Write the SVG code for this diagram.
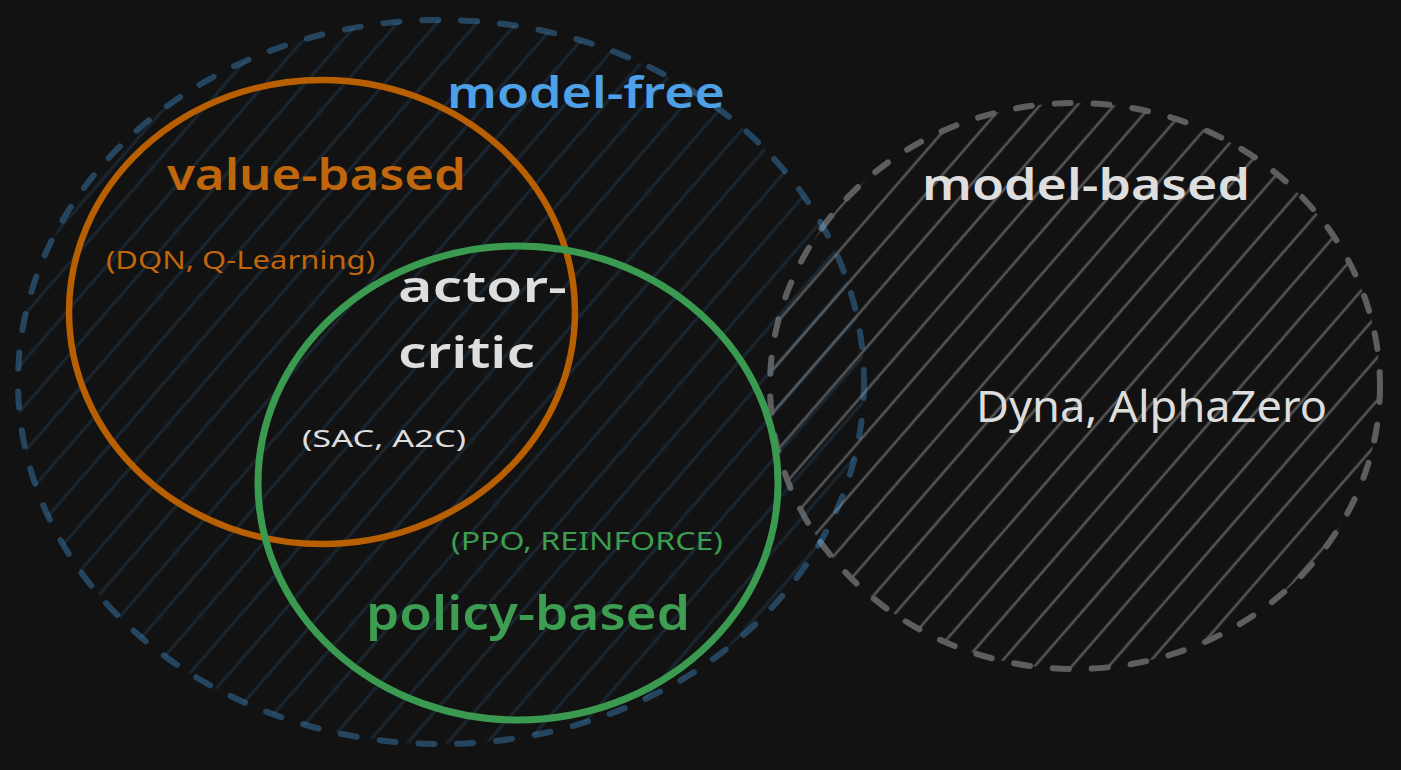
<svg xmlns="http://www.w3.org/2000/svg" width="1401" height="770" viewBox="0 0 1401 770">
<style>
.hand{font-family:"Noto Sans","Open Sans","DejaVu Sans",sans-serif;font-size:44px;font-weight:600;}
.small{font-family:"Noto Sans","Open Sans","DejaVu Sans",sans-serif;font-size:25px;}
.dash{fill:none;stroke-width:6;stroke-linecap:round;stroke-dasharray:16 23;}
</style>
<defs>
<pattern id="hatchBlue" patternUnits="userSpaceOnUse" width="30" height="30" patternTransform="rotate(41)">
<line x1="15" y1="-2" x2="15" y2="32" stroke="#4dabf7" stroke-opacity="0.13" stroke-width="3"/>
</pattern>
<pattern id="hatchGray" patternUnits="userSpaceOnUse" width="28" height="28" patternTransform="rotate(41)">
<line x1="14" y1="-2" x2="14" y2="30" stroke="#555555" stroke-width="2.6"/>
</pattern>
</defs>
<rect width="1401" height="770" fill="#121212"/>
<g id="model-based">
<ellipse cx="1075" cy="386" rx="305" ry="283" fill="url(#hatchGray)"/>
<ellipse class="dash" cx="1075" cy="386" rx="305" ry="283" stroke="#5e5e5e"/>
<text class="hand" x="922" y="200" textLength="328" lengthAdjust="spacingAndGlyphs" fill="#dedede">model-based</text>
<text class="small" x="976" y="422" textLength="351" lengthAdjust="spacingAndGlyphs" style="font-size:44px" fill="#dddddd">Dyna, AlphaZero</text>
</g>
<g id="model-free">
<ellipse cx="441" cy="382" rx="423" ry="362" fill="url(#hatchBlue)"/>
<ellipse class="dash" cx="441" cy="382" rx="423" ry="362" stroke="#4dabf7" stroke-opacity="0.34"/>
<text class="hand" x="447" y="108" textLength="278" lengthAdjust="spacingAndGlyphs" fill="#4ea1e6">model-free</text>
</g>
<g id="value-based">
<ellipse cx="322" cy="312" rx="253" ry="232" fill="none" stroke="#b85f02" stroke-width="6.5"/>
<text class="hand" x="167" y="190" textLength="299" lengthAdjust="spacingAndGlyphs" fill="#c0660c">value-based</text>
<text class="small" x="106" y="269" textLength="269" lengthAdjust="spacingAndGlyphs" fill="#c0660c">(DQN, Q-Learning)</text>
</g>
<g id="policy-based">
<ellipse cx="518" cy="483" rx="260" ry="237" fill="none" stroke="#3a9a4f" stroke-width="7"/>
<text class="small" x="451" y="550" textLength="272" lengthAdjust="spacingAndGlyphs" fill="#3d9d50">(PPO, REINFORCE)</text>
<text class="hand" x="366" y="630" textLength="324" lengthAdjust="spacingAndGlyphs" style="font-size:46px" fill="#3d9d50">policy-based</text>
</g>
<g id="actor-critic">
<text class="hand" x="398" y="302" textLength="169" lengthAdjust="spacingAndGlyphs" fill="#dedede">actor-</text>
<text class="hand" x="398" y="368" textLength="137" lengthAdjust="spacingAndGlyphs" fill="#dedede">critic</text>
<text class="small" x="302" y="447" textLength="164" lengthAdjust="spacingAndGlyphs" style="font-size:24px" fill="#dddddd">(SAC, A2C)</text>
</g>
<g id="connectors"></g>
</svg>
